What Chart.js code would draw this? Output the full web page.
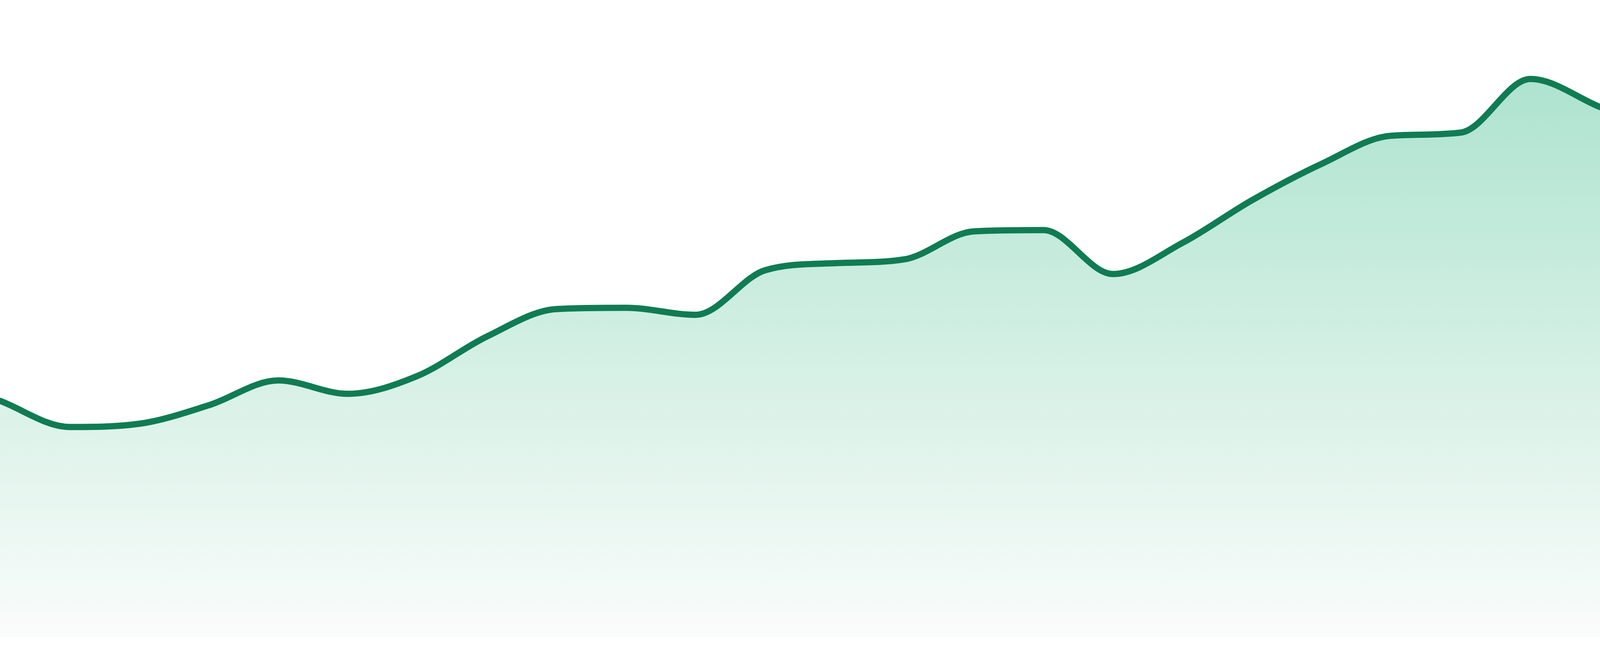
<!DOCTYPE html>
<html>
<head>
<meta charset="utf-8">
<script src="https://cdn.jsdelivr.net/npm/chart.js@4/dist/chart.umd.min.js"></script>
<style>
  html, body { margin: 0; padding: 0; background: #ffffff; overflow: hidden; width: 100%; height: 100%; }
  #wrap { position: fixed; left: 0; top: 0; width: 100vw; height: 100vh; }
  canvas { display: block; }
</style>
</head>
<body>
<div id="wrap"><canvas id="c"></canvas></div>
<script>
const categories = ["1","2","3","4","5","6","7","8","9","10","11","12","13","14","15","16","17","18","19","20","21","22","23","24"];
const values = [37.1, 33.0, 33.5, 36.4, 40.3, 38.2, 41.0, 47.2, 51.5, 51.7, 50.6, 57.6, 58.7, 59.3, 63.7, 63.9, 57.0, 61.9, 68.6, 74.3, 78.7, 79.2, 87.6, 83.2];
const yMin = 0;
const yMax = 100;

const lineColor = '#107c53';
const unit = window.innerHeight / 1680;

function fillGradient(context) {
  const chart = context.chart;
  const area = chart.chartArea;
  if (!area) return 'rgba(163,224,200,0.5)';
  const g = chart.ctx.createLinearGradient(0, area.top, 0, area.bottom);
  g.addColorStop(0, 'rgb(163,224,200)');
  g.addColorStop(1, 'rgb(250,252,251)');
  return g;
}

new Chart(document.getElementById('c'), {
  type: 'line',
  data: {
    labels: categories,
    datasets: [{
      data: values,
      borderColor: lineColor,
      borderWidth: 16 * unit,
      backgroundColor: fillGradient,
      fill: 'start',
      pointRadius: 0,
      pointHoverRadius: 0,
      cubicInterpolationMode: 'monotone',
      borderCapStyle: 'round',
      borderJoinStyle: 'round'
    }]
  },
  options: {
    responsive: true,
    maintainAspectRatio: false,
    animation: false,
    layout: { padding: { top: 0, right: 0, bottom: 48 * unit, left: 0 } },
    plugins: { legend: { display: false }, tooltip: { enabled: false } },
    scales: {
      x: { display: false, offset: false },
      y: { display: false, min: yMin, max: yMax }
    }
  }
});
</script>
</body>
</html>
